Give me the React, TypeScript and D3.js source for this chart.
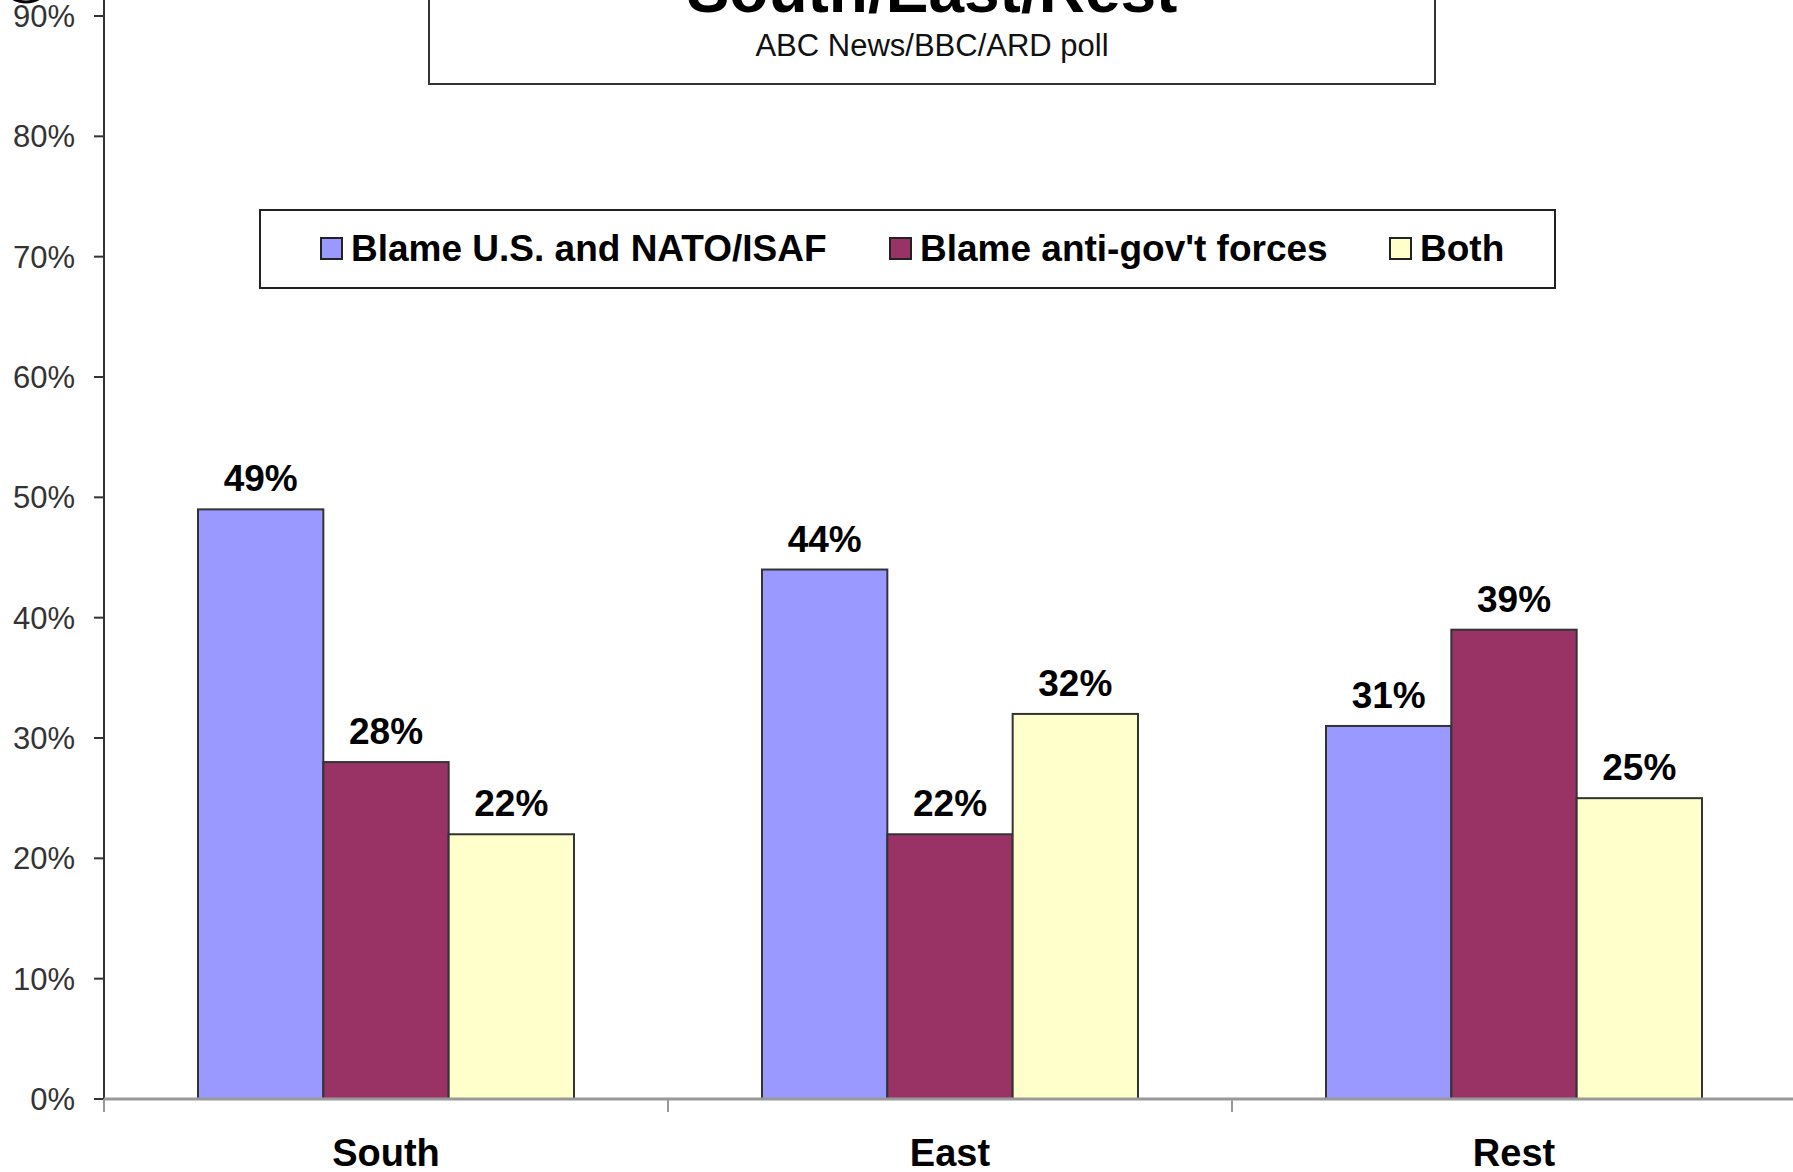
import React from 'react';
import * as d3 from 'd3';

const regions = ['South', 'East', 'Rest'];
const seriesNames = ['Blame U.S. and NATO/ISAF', "Blame anti-gov't forces", 'Both'];
const blameUS = [49, 44, 31];
const blameAntiGov = [28, 22, 39];
const both = [22, 32, 25];
const yTicks = [0, 10, 20, 30, 40, 50, 60, 70, 80, 90];
const colors = ['#9999ff', '#993366', '#ffffcc'];

const W = 1793;
const H = 1172;

const App = () => {
  const values = [blameUS, blameAntiGov, both];

  const x0 = d3.scaleBand<string>().domain(regions).range([104, 1796]).paddingInner(0).paddingOuter(0);
  const x1 = d3.scaleBand<string>().domain(seriesNames).range([0, x0.bandwidth()]).paddingInner(0).paddingOuter(0.75);
  const y = d3.scaleLinear().domain([0, 90]).range([1099, 16]);

  const font = '"Liberation Sans", Arial, sans-serif';
  const legendX = [321, 890, 1390]; // swatch left edges

  return (
    <svg width={W} height={H} style={{ position: 'absolute', left: 0, top: 0, display: 'block', background: '#fff' }}
      fontFamily={font}>
      <rect x={0} y={0} width={W} height={H} fill="#fff" />

      {/* partial logo in the corner */}
      <ellipse cx={26} cy={-9} rx={18} ry={11} fill="none" stroke="#000" strokeWidth={3} />

      {/* title box */}
      <rect x={429} y={-10} width={1006} height={94} fill="#fff" stroke="#333" strokeWidth={2} />
      <text x={932} y={12} textAnchor="middle" fontSize={64} fontWeight="bold" fill="#000">South/East/Rest</text>
      <text x={932} y={56} textAnchor="middle" fontSize={31} fill="#111">ABC News/BBC/ARD poll</text>

      {/* y axis */}
      <line x1={104} x2={104} y1={0} y2={y(0)} stroke="#333" strokeWidth={2} />
      {yTicks.map(t => (
        <g key={t}>
          <line x1={94} x2={104} y1={y(t)} y2={y(t)} stroke="#333" strokeWidth={2} />
          <text x={75} y={y(t)} dy="0.36em" textAnchor="end" fontSize={31} fill="#333">{t}%</text>
        </g>
      ))}

      {/* bars */}
      {regions.map((r, i) => (
        <g key={r} transform={`translate(${x0(r)},0)`}>
          {seriesNames.map((s, j) => {
            const v = values[j][i];
            return (
              <g key={s}>
                <rect x={x1(s)} y={y(v)} width={x1.bandwidth()} height={y(0) - y(v)}
                  fill={colors[j]} stroke="#333" strokeWidth={2} />
                <text x={(x1(s) as number) + x1.bandwidth() / 2} y={y(v) - 18} textAnchor="middle"
                  fontSize={37} fontWeight="bold" fill="#000">{v}%</text>
              </g>
            );
          })}
        </g>
      ))}

      {/* x axis */}
      <line x1={104} x2={W} y1={y(0)} y2={y(0)} stroke="#999" strokeWidth={3} />
      {regions.map(r => (
        <line key={r} x1={x0(r)} x2={x0(r)} y1={y(0)} y2={y(0) + 13} stroke="#999" strokeWidth={2} />
      ))}
      {regions.map(r => (
        <text key={r} x={(x0(r) as number) + x0.bandwidth() / 2} y={1166} textAnchor="middle"
          fontSize={38} fontWeight="bold" fill="#000">{r}</text>
      ))}

      {/* legend */}
      <rect x={260} y={210} width={1295} height={78} fill="#fff" stroke="#222" strokeWidth={2} />
      {seriesNames.map((s, j) => (
        <g key={s}>
          <rect x={legendX[j]} y={238} width={21} height={21} fill={colors[j]} stroke="#222" strokeWidth={2} />
          <text x={legendX[j] + 30} y={261} fontSize={37} fontWeight="bold" fill="#000">{s}</text>
        </g>
      ))}
    </svg>
  );
};

export default App;
